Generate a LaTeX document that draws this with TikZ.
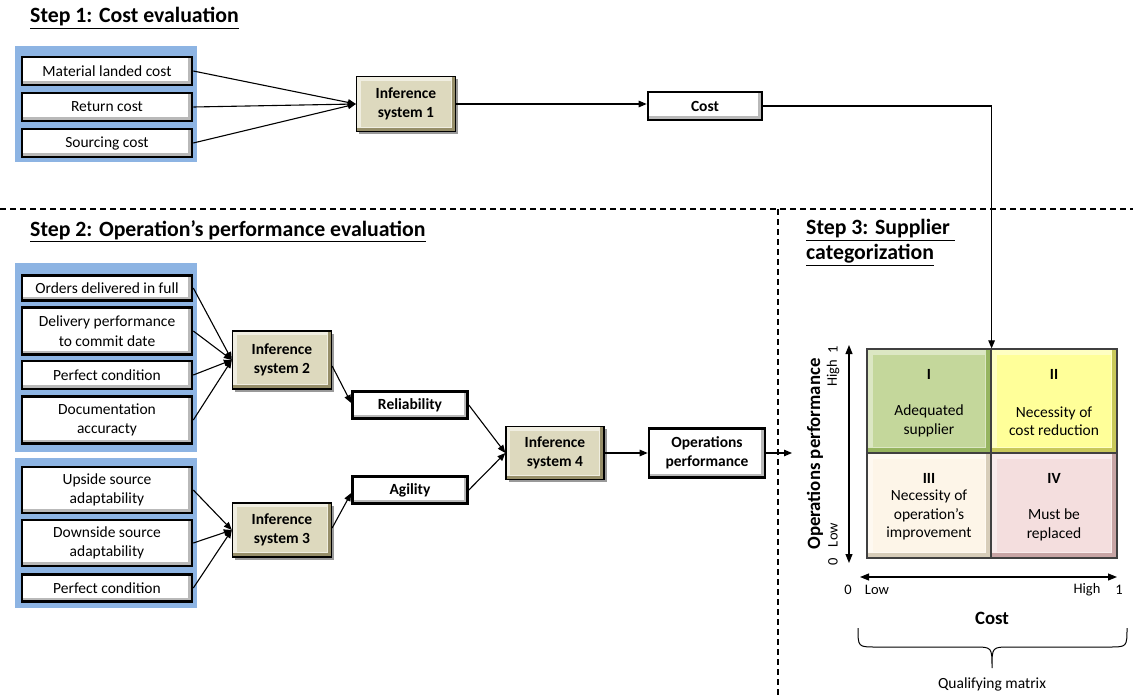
\documentclass[tikz,border=0pt]{standalone}
\usepackage{fontspec}
\setmainfont{Carlito}
\usetikzlibrary{arrows.meta,shadows}
\definecolor{grpblue}{RGB}{141,180,227}
\definecolor{infface}{RGB}{221,217,190}
\definecolor{inflight}{RGB}{240,238,225}
\definecolor{infdark}{RGB}{150,142,105}
\definecolor{qIface}{RGB}{196,215,155}
\definecolor{qIedge}{RGB}{150,180,95}
\definecolor{qIIface}{RGB}{255,255,153}
\definecolor{qIIedge}{RGB}{200,200,90}
\definecolor{qIIIface}{RGB}{253,245,232}
\definecolor{qIIIedge}{RGB}{215,205,185}
\definecolor{qIVface}{RGB}{244,222,222}
\definecolor{qIVedge}{RGB}{200,165,165}
\begin{document}
\begin{tikzpicture}[x=1pt,y=-1pt,
  font=\fontsize{15.5}{19.5}\selectfont,
  arr/.style={line width=1.1pt,-{Triangle[length=8pt,width=6.5pt]}},
  dash line/.style={line width=1.1pt,dash pattern=on 6pt off 4pt},
  heading/.style={font=\fontsize{21.8}{26}\selectfont\bfseries, anchor=west, inner sep=0pt, align=left},
  grp/.style={fill=grpblue, draw=none},
  wbox/.style={draw=black, line width=2.6pt, align=center, inner sep=0pt,
    path picture={
      \fill[gray!55] (path picture bounding box.south west) rectangle (path picture bounding box.north east);
      \fill[white] (path picture bounding box.north west) rectangle ([shift={(-4pt,4pt)}]path picture bounding box.south east);
    }},
  obox/.style={wbox, font=\fontsize{15.5}{19.5}\selectfont\bfseries},
  infbox/.style={draw=black, line width=1.3pt, align=center, inner sep=0pt,
    font=\fontsize{15.5}{19.5}\selectfont\bfseries,
    drop shadow={shadow xshift=2.5pt, shadow yshift=-2.5pt, opacity=0.4, fill=black},
    path picture={
      \fill[infdark] (path picture bounding box.south west) rectangle (path picture bounding box.north east);
      \fill[inflight] (path picture bounding box.north west) rectangle ([shift={(-4pt,4pt)}]path picture bounding box.south east);
      \fill[infface] ([shift={(4pt,-4pt)}]path picture bounding box.north west) rectangle ([shift={(-5pt,5pt)}]path picture bounding box.south east);
    }},
  quad/.style 2 args={draw=black!75, line width=1.2pt, inner sep=0pt,
    path picture={
      \fill[#2] (path picture bounding box.south west) rectangle (path picture bounding box.north east);
      \fill[#1!60!white] (path picture bounding box.north west) rectangle ([shift={(-5pt,5pt)}]path picture bounding box.south east);
      \fill[#1] ([shift={(6pt,-6pt)}]path picture bounding box.north west) rectangle ([shift={(-6pt,6pt)}]path picture bounding box.south east);
    }},
  qtext/.style={align=center, inner sep=0pt, font=\fontsize{15.5}{18.5}\selectfont},
  qnum/.style={inner sep=0pt, font=\fontsize{15.5}{18}\selectfont\bfseries},
  axlab/.style={inner sep=0pt, font=\fontsize{14.5}{17}\selectfont}
]
\useasboundingbox (0,0) rectangle (1133,696);

% headings
\node[heading] (h1) at (30,18) {\underline{Step 1: Cost evaluation}};
\node[heading] (h2) at (30,231) {\underline{Step 2: Operation’s performance evaluation}};
\node[heading] (h3a) at (806,230) {\underline{Step 3: Supplier }};
\node[heading] (h3b) at (806,255) {\underline{categorization}};

% dashed separators
\coordinate (dl) at (0,209);
\coordinate (dr) at (1133,209);
\coordinate (dt) at (778,209);
\coordinate (db) at (778,696);
\draw[dash line] (dl) -- (dr);
\draw[dash line] (dt) -- (db);

% blue groups
\fill[grp] (15,46) rectangle (197,162);
\fill[grp] (15,263) rectangle (197,452);
\fill[grp] (15,458) rectangle (197,608);

% step 1 inputs
\node[wbox, minimum width=170pt, minimum height=28pt] (mlc) at (107,71) {Material landed cost};
\node[wbox, minimum width=170pt, minimum height=28pt] (rc) at (107,107) {Return cost};
\node[wbox, minimum width=170pt, minimum height=28pt] (sc) at (107,143) {Sourcing cost};
\node[infbox, minimum width=99pt, minimum height=55pt] (inf1) at (406,104) {Inference\\system 1};
\node[obox, minimum width=114pt, minimum height=28pt] (cost) at (705,106) {Cost};

% step 2 inputs
\node[wbox, minimum width=170pt, minimum height=25pt] (odf) at (107,288) {Orders delivered in full};
\node[wbox, minimum width=170pt, minimum height=47pt] (dpc) at (107,331) {Delivery performance\\to commit date};
\node[wbox, minimum width=170pt, minimum height=28pt] (pc1) at (107,375) {Perfect condition};
\node[wbox, minimum width=170pt, minimum height=47pt] (doc) at (107,420) {Documentation\\accuracty};
\node[wbox, minimum width=170pt, minimum height=46pt] (usa) at (107,490) {Upside source\\adaptability};
\node[wbox, minimum width=170pt, minimum height=46pt] (dsa) at (107,543) {Downside source\\adaptability};
\node[wbox, minimum width=170pt, minimum height=27pt] (pc2) at (107,588) {Perfect condition};

\node[infbox, minimum width=99pt, minimum height=58pt] (inf2) at (282,360) {Inference\\system 2};
\node[infbox, minimum width=99pt, minimum height=54pt] (inf3) at (282,530) {Inference\\system 3};
\node[obox, minimum width=115pt, minimum height=27pt] (rel) at (410,405) {Reliability};
\node[obox, minimum width=115pt, minimum height=27pt] (agi) at (410,490) {Agility};
\node[infbox, minimum width=98pt, minimum height=53pt] (inf4) at (555,453) {Inference\\system 4};
\node[obox, minimum width=116pt, minimum height=49pt] (ops) at (707,453) {Operations\\performance};

% connectors step 1
\draw[arr] (mlc.east) -- (inf1.west);
\draw[arr] (rc.east) -- (inf1.west);
\draw[arr] (sc.east) -- (inf1.west);
\draw[arr] (inf1.east) -- (cost.west |- inf1.east);

% connectors step 2
\foreach \s in {odf,dpc,pc1,doc} \draw[arr] (\s.east) -- (inf2.west);
\foreach \s in {usa,dsa,pc2} \draw[arr] (\s.east) -- (inf3.west);
\draw[arr] ([yshift=-6pt]inf2.east) -- ([yshift=2pt]rel.west);
\draw[arr] ([yshift=2pt]inf3.east) -- ([yshift=-3pt]agi.west);
\draw[arr] (rel.east) -- (inf4.west);
\draw[arr] (agi.east) -- (inf4.west);
\draw[arr] (inf4.east) -- (ops.west);
\coordinate (opsend) at (792,453);
\draw[arr] (ops.east) -- (opsend);

% matrix
\node[quad={qIface}{qIedge}, minimum width=124pt, minimum height=104pt] (q1) at (929,401) {};
\node[quad={qIIface}{qIIedge}, minimum width=126pt, minimum height=104pt] (q2) at (1054,401) {};
\node[quad={qIIIface}{qIIIedge}, minimum width=124pt, minimum height=105pt] (q3) at (929,505.5) {};
\node[quad={qIVface}{qIVedge}, minimum width=126pt, minimum height=105pt] (q4) at (1054,505.5) {};

\node[qnum] (n1) at (929,374) {I};
\node[qtext] (t1) at (929,421) {Adequated\\supplier};
\node[qnum] (n2) at (1054,374) {II};
\node[qtext] (t2) at (1054,421) {Necessity of\\cost reduction};
\node[qnum] (n3) at (929,478) {III};
\node[qtext] (t3) at (929,515) {Necessity of\\operation’s\\improvement};
\node[qnum] (n4) at (1054,478) {IV};
\node[qtext] (t4) at (1054,525) {Must be\\replaced};

% cost to matrix
\draw[arr] (cost.east) -| (q1.north east);

% axes
\coordinate (vt) at (849,345);
\coordinate (vb) at (849,563);
\coordinate (hl) at (860,577);
\coordinate (hr) at (1117,577);
\draw[line width=1.1pt,{Triangle[length=9pt,width=7pt]}-{Triangle[length=9pt,width=7pt]}] (vt) -- (vb);
\draw[line width=1.1pt,{Triangle[length=9pt,width=7pt]}-{Triangle[length=9pt,width=7pt]}] (hl) -- (hr);

\node[rotate=90, inner sep=0pt, font=\fontsize{18.8}{22}\selectfont\bfseries] (ylab) at (815,454) {Operations performance};
\node[axlab, rotate=90] (yhigh) at (833,373) {High};
\node[axlab, rotate=90] (yone) at (833,350) {1};
\node[axlab, rotate=90] (ylow) at (833,535) {Low};
\node[axlab, rotate=90] (yzero) at (833,562) {0};
\node[axlab] (xzero) at (848,590) {0};
\node[axlab] (xlow) at (877,590) {Low};
\node[axlab] (xhigh) at (1087,590) {High};
\node[axlab] (xone) at (1119,590) {1};
\node[inner sep=0pt, font=\fontsize{18.8}{22}\selectfont\bfseries] (xlab) at (992,618) {Cost};

% brace
\draw[line width=1pt] (858,628) .. controls (858,647) .. (876,647) -- (974,647) .. controls (992,647) .. (992,668) .. controls (992,647) .. (1010,647) -- (1109,647) .. controls (1127,647) .. (1127,628);
\node[inner sep=0pt, font=\fontsize{15.5}{18}\selectfont] (qm) at (992,684) {Qualifying matrix};
\end{tikzpicture}
\end{document}
